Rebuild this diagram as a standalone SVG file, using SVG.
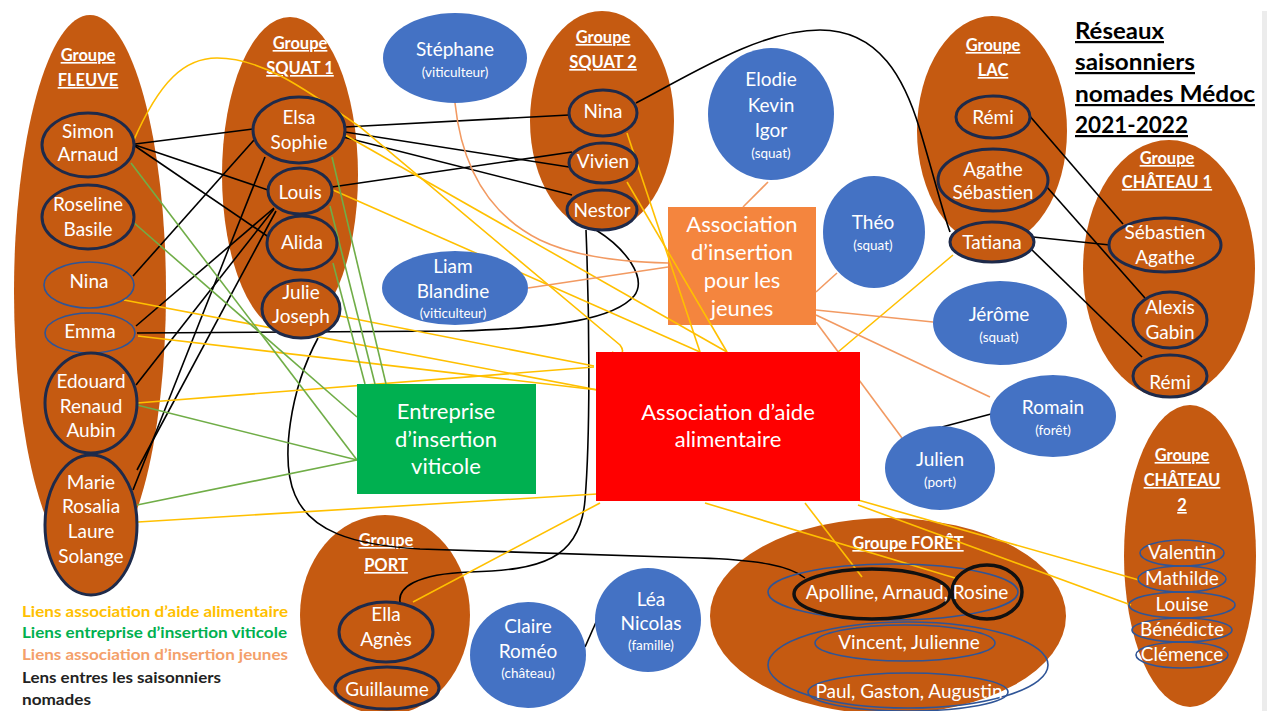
<svg xmlns="http://www.w3.org/2000/svg" width="1267" height="711" viewBox="0 0 1267 711">
<style>
.grp{fill:#C55A11}
.m{fill:#C55A11;stroke:#1E2A4A;stroke-width:3}
.mt{fill:#C55A11;stroke:#2F5597;stroke-width:1.6}
.mk{fill:none;stroke:#111;stroke-width:3.5}
.mo{fill:none;stroke:#2F5597;stroke-width:1.6}
.b{fill:#4472C4}
text{font-family:Lato,"Open Sans","Liberation Sans",sans-serif}
.t{fill:#fff;text-anchor:middle;font-size:19px}
.gl{fill:#fff;text-anchor:middle;font-size:16.5px;font-weight:bold;text-decoration:underline}
.s{font-size:13.5px}
.bx{fill:#fff;text-anchor:middle;font-size:22px}
.k{fill:none;stroke:#000;stroke-width:1.6}
.y{fill:none;stroke:#FFC000;stroke-width:1.6}
.g{fill:none;stroke:#70AD47;stroke-width:1.6}
.o{fill:none;stroke:#F29A62;stroke-width:1.6}
.lg{font-size:15px;font-weight:bold}
.ti{font-size:22px;font-weight:bold;fill:#000;text-decoration:underline}
</style>
<rect x="0" y="0" width="1267" height="711" fill="#fff"/>
<rect x="1262" y="11" width="5" height="700" fill="#ECECEC"/>

<!-- group containers -->
<g id="groupe-fleuve"><ellipse class="grp" cx="90" cy="292" rx="76" ry="277"/>
<text class="gl" x="88" y="61">Groupe</text><text class="gl" x="88" y="86">FLEUVE</text></g>
<g id="groupe-squat1"><ellipse class="grp" cx="290" cy="175" rx="68" ry="158"/>
<text class="gl" x="300" y="49">Groupe</text><text class="gl" x="300" y="74">SQUAT 1</text></g>
<g id="groupe-squat2"><ellipse class="grp" cx="602" cy="121" rx="72" ry="110"/>
<text class="gl" x="603" y="43">Groupe</text><text class="gl" x="603" y="68">SQUAT 2</text></g>
<g id="groupe-lac"><ellipse class="grp" cx="992" cy="131" rx="75" ry="115"/>
<text class="gl" x="993" y="51">Groupe</text><text class="gl" x="993" y="76">LAC</text></g>
<g id="groupe-chateau1"><ellipse class="grp" cx="1169" cy="269" rx="86" ry="129"/>
<text class="gl" x="1167" y="164">Groupe</text><text class="gl" x="1167" y="188">CHÂTEAU 1</text></g>
<g id="groupe-chateau2"><ellipse class="grp" cx="1190" cy="556" rx="66" ry="151"/>
<text class="gl" x="1182" y="461">Groupe</text><text class="gl" x="1182" y="486">CHÂTEAU</text><text class="gl" x="1182" y="511">2</text></g>
<g id="groupe-port"><ellipse class="grp" cx="385" cy="615" rx="85" ry="100"/>
<text class="gl" x="386" y="546">Groupe</text><text class="gl" x="386" y="571">PORT</text></g>
<g id="groupe-foret"><ellipse class="grp" cx="888" cy="616" rx="178" ry="98"/>
<text class="gl" x="908" y="549">Groupe FORÊT</text></g>

<g id="asso-jeunes"><rect x="668" y="207" width="148" height="118" fill="#F4853E"/>
<text class="bx" x="742" y="232" font-size="21">Association</text><text class="bx" x="742" y="260" font-size="21">d’insertion</text><text class="bx" x="742" y="288" font-size="21">pour les</text><text class="bx" x="742" y="316" font-size="21">jeunes</text></g>

<!-- connectors -->
<g id="connectors">
<!-- black: links between seasonal workers -->
<path class="k" d="M135,144 L253,129"/>
<path class="k" d="M135,145 L268,190"/>
<path class="k" d="M135,146 L273,240"/>
<path class="k" d="M133,276 L254,140"/>
<path class="k" d="M136,326 L274,208"/>
<path class="k" d="M136,385 L274,209"/>
<path class="k" d="M137,470 L276,211"/>
<path class="k" d="M133,490 L265,157"/>
<path class="k" d="M345,127 L569,115"/>
<path class="k" d="M345,132 L569,167"/>
<path class="k" d="M343,137 L572,195"/>
<path class="k" d="M332,187 L572,152"/>
<path class="k" d="M137,333 L460,331 C560,328 615,318 634,296 C648,278 625,248 596,230"/>
<path class="k" d="M586,230 C590,330 590,440 585,500 C580,560 540,570 470,572 C415,574 398,588 400,602"/>
<path class="k" d="M318,338 C290,390 280,460 295,495 C310,530 350,545 420,549 L700,558 C760,560 790,566 805,578"/>
<path class="k" d="M636,103 C690,75 760,30 820,30 C880,30 905,80 920,130 C935,180 942,210 950,232"/>
<path class="k" d="M1028,114 L1123,224"/>
<path class="k" d="M1046,186 L1145,298"/>
<path class="k" d="M1033,237 L1110,245"/>
<path class="k" d="M1031,249 L1142,357"/>
<path class="k" d="M942,427 L991,414"/>
<path class="k" d="M585,647 L597,620"/>
<!-- yellow: food aid association -->
<path class="y" d="M133,142 C160,80 185,58 217,58 C260,58 300,85 360,127 L620,345 C626,353 620,357 612,352"/>
<path class="y" d="M124,300 L598,390"/>
<path class="y" d="M138,336 L598,390"/>
<path class="y" d="M137,403 L594,367"/>
<path class="y" d="M138,522 L597,494"/>
<path class="y" d="M340,316 L594,366"/>
<path class="y" d="M333,190 L700,352"/>
<path class="y" d="M345,135 L727,352"/>
<path class="y" d="M627,133 L700,352"/>
<path class="y" d="M627,182 L727,352"/>
<path class="y" d="M953,255 L838,352"/>
<path class="y" d="M600,503 L413,602"/>
<path class="y" d="M805,503 L862,577"/>
<path class="y" d="M705,503 L955,578"/>
<path class="y" d="M858,500 L1139,580"/>
<path class="y" d="M858,505 L1131,605"/>
<!-- green: viticultural insertion company -->
<path class="g" d="M131,163 L357,460"/>
<path class="g" d="M133,222 L357,417"/>
<path class="g" d="M137,405 L357,460"/>
<path class="g" d="M137,505 L357,460"/>
<path class="g" d="M332,157 L386,384"/>
<path class="g" d="M330,206 L375,384"/>
<path class="g" d="M333,263 L365,384"/>
<!-- orange: youth insertion association -->
<path class="o" d="M455,103 C462,170 490,215 540,240 C575,257 620,262 668,263"/>
<path class="o" d="M528,288 L668,267"/>
<path class="o" d="M768,182 L743,207"/>
<path class="o" d="M837,273 L816,292"/>
<path class="o" d="M933,322 L816,310"/>
<path class="o" d="M990,397 L816,315"/>
<path class="o" d="M902,438 L816,322"/>
</g>

<!-- institutions -->
<g id="asso-aide-alimentaire"><rect x="596" y="352" width="264" height="149" fill="#FF0000"/>
<text class="bx" x="728" y="420">Association d’aide</text><text class="bx" x="728" y="447">alimentaire</text></g>
<g id="entreprise-insertion"><rect x="357" y="384" width="179" height="110" fill="#00B050"/>
<text class="bx" x="446" y="419">Entreprise</text><text class="bx" x="446" y="447">d’insertion</text><text class="bx" x="446" y="474">viticole</text></g>

<!-- FLEUVE members -->
<g id="simon-arnaud"><ellipse class="m" cx="88" cy="145" rx="46" ry="32"/><text class="t" x="88" y="138">Simon</text><text class="t" x="88" y="161">Arnaud</text></g>
<g id="roseline-basile"><ellipse class="m" cx="88" cy="217" rx="46" ry="32"/><text class="t" x="88" y="211">Roseline</text><text class="t" x="88" y="236">Basile</text></g>
<g id="nina-fleuve"><ellipse class="mt" cx="89" cy="285" rx="45" ry="23"/><text class="t" x="89" y="288">Nina</text></g>
<g id="emma"><ellipse class="mt" cx="90" cy="333" rx="45" ry="20"/><text class="t" x="90" y="338">Emma</text></g>
<g id="edouard-renaud-aubin"><ellipse class="m" cx="91" cy="403" rx="46" ry="50"/><text class="t" x="91" y="388">Edouard</text><text class="t" x="91" y="413">Renaud</text><text class="t" x="91" y="437">Aubin</text></g>
<g id="marie-rosalia-laure-solange"><ellipse class="m" cx="91" cy="525" rx="46" ry="70"/><text class="t" x="91" y="489">Marie</text><text class="t" x="91" y="513">Rosalia</text><text class="t" x="91" y="538">Laure</text><text class="t" x="91" y="563">Solange</text></g>

<!-- SQUAT 1 members -->
<g id="elsa-sophie"><ellipse class="m" cx="299" cy="130" rx="46" ry="33"/><text class="t" x="299" y="124">Elsa</text><text class="t" x="299" y="149">Sophie</text></g>
<g id="louis"><ellipse class="m" cx="300" cy="191" rx="32" ry="23"/><text class="t" x="300" y="199">Louis</text></g>
<g id="alida"><ellipse class="m" cx="302" cy="243" rx="35" ry="27"/><text class="t" x="302" y="249">Alida</text></g>
<g id="julie-joseph"><ellipse class="m" cx="301" cy="309" rx="39" ry="29"/><text class="t" x="301" y="299">Julie</text><text class="t" x="301" y="323">Joseph</text></g>

<!-- SQUAT 2 members -->
<g id="nina-squat2"><ellipse class="m" cx="603" cy="113" rx="34" ry="23"/><text class="t" x="603" y="118">Nina</text></g>
<g id="vivien"><ellipse class="m" cx="603" cy="163" rx="34" ry="20"/><text class="t" x="603" y="168">Vivien</text></g>
<g id="nestor"><ellipse class="m" cx="602" cy="210" rx="35" ry="20"/><text class="t" x="602" y="217">Nestor</text></g>

<!-- LAC members -->
<g id="remi-lac"><ellipse class="m" cx="993" cy="117" rx="37" ry="21"/><text class="t" x="993" y="124">Rémi</text></g>
<g id="agathe-sebastien-lac"><ellipse class="m" cx="993" cy="180" rx="55" ry="31"/><text class="t" x="993" y="176">Agathe</text><text class="t" x="993" y="199">Sébastien</text></g>
<g id="tatiana"><ellipse class="m" cx="992" cy="242" rx="42" ry="20"/><text class="t" x="992" y="249">Tatiana</text></g>

<!-- CHATEAU 1 members -->
<g id="sebastien-agathe-ch1"><ellipse class="m" cx="1165" cy="245" rx="56" ry="27"/><text class="t" x="1165" y="239">Sébastien</text><text class="t" x="1165" y="264">Agathe</text></g>
<g id="alexis-gabin"><ellipse class="m" cx="1170" cy="320" rx="37" ry="28"/><text class="t" x="1170" y="314">Alexis</text><text class="t" x="1170" y="339">Gabin</text></g>
<g id="remi-ch1"><ellipse class="m" cx="1170" cy="376" rx="37" ry="21"/><text class="t" x="1170" y="389">Rémi</text></g>

<!-- CHATEAU 2 members -->
<g id="valentin"><ellipse class="mo" cx="1182" cy="553" rx="42" ry="13"/><text class="t" x="1182" y="559" font-size="17">Valentin</text></g>
<g id="mathilde"><ellipse class="mo" cx="1182" cy="579" rx="44" ry="13"/><text class="t" x="1182" y="585" font-size="17">Mathilde</text></g>
<g id="louise"><ellipse class="mo" cx="1182" cy="605" rx="53" ry="13"/><text class="t" x="1182" y="611" font-size="17">Louise</text></g>
<g id="benedicte"><ellipse class="mo" cx="1182" cy="630" rx="50" ry="12"/><text class="t" x="1182" y="636" font-size="17">Bénédicte</text></g>
<g id="clemence"><ellipse class="mo" cx="1182" cy="655" rx="46" ry="13"/><text class="t" x="1182" y="661" font-size="17">Clémence</text></g>

<!-- FORET members -->
<g id="apolline-arnaud-rosine"><ellipse class="mo" cx="893" cy="592" rx="125" ry="28"/><ellipse class="mk" cx="872" cy="594" rx="78" ry="25"/><ellipse class="mk" cx="987" cy="592" rx="35" ry="27"/><text class="t" x="907" y="599">Apolline, Arnaud, Rosine</text></g>
<g id="vincent-paul"><ellipse class="mo" cx="908" cy="665" rx="140" ry="43"/>
<ellipse class="mo" cx="905" cy="643" rx="90" ry="18"/><text class="t" x="909" y="649">Vincent, Julienne</text>
<ellipse class="mo" cx="908" cy="692" rx="100" ry="19"/><text class="t" x="909" y="698">Paul, Gaston, Augustin</text></g>

<!-- PORT members -->
<g id="ella-agnes"><ellipse class="m" cx="386" cy="632" rx="47" ry="30"/><text class="t" x="386" y="621">Ella</text><text class="t" x="386" y="646">Agnès</text></g>
<g id="guillaume"><ellipse class="m" cx="387" cy="688" rx="52" ry="21"/><text class="t" x="387" y="696">Guillaume</text></g>

<!-- blue persons -->
<g id="stephane"><ellipse class="b" cx="455" cy="58" rx="72" ry="45"/><text class="t" x="455" y="56">Stéphane</text><text class="t s" x="455" y="77">(viticulteur)</text></g>
<g id="elodie-kevin-igor"><ellipse class="b" cx="771" cy="114" rx="63" ry="66"/><text class="t" x="771" y="86">Elodie</text><text class="t" x="771" y="112">Kevin</text><text class="t" x="771" y="137">Igor</text><text class="t s" x="771" y="158">(squat)</text></g>
<g id="theo"><ellipse class="b" cx="874" cy="232" rx="51" ry="56"/><text class="t" x="873" y="229">Théo</text><text class="t s" x="873" y="250">(squat)</text></g>
<g id="liam-blandine"><ellipse class="b" cx="455" cy="288" rx="73" ry="37"/><text class="t" x="453" y="273">Liam</text><text class="t" x="453" y="298">Blandine</text><text class="t s" x="453" y="318">(viticulteur)</text></g>
<g id="jerome"><ellipse class="b" cx="1000" cy="323" rx="67" ry="42"/><text class="t" x="999" y="321">Jérôme</text><text class="t s" x="999" y="342">(squat)</text></g>
<g id="romain"><ellipse class="b" cx="1053" cy="416" rx="63" ry="41"/><text class="t" x="1053" y="414">Romain</text><text class="t s" x="1053" y="435">(forêt)</text></g>
<g id="julien"><ellipse class="b" cx="940" cy="468" rx="55" ry="42"/><text class="t" x="940" y="466">Julien</text><text class="t s" x="940" y="487">(port)</text></g>
<g id="claire-romeo"><ellipse class="b" cx="528" cy="655" rx="58" ry="53"/><text class="t" x="528" y="633">Claire</text><text class="t" x="528" y="658">Roméo</text><text class="t s" x="528" y="678">(château)</text></g>
<g id="lea-nicolas"><ellipse class="b" cx="648" cy="620" rx="53" ry="52"/><text class="t" x="651" y="606">Léa</text><text class="t" x="651" y="630">Nicolas</text><text class="t s" x="651" y="650">(famille)</text></g>

<!-- title -->
<g id="titre">
<text class="ti" x="1075" y="39" textLength="89" lengthAdjust="spacingAndGlyphs">Réseaux</text>
<text class="ti" x="1075" y="70" textLength="120" lengthAdjust="spacingAndGlyphs">saisonniers</text>
<text class="ti" x="1075" y="102" textLength="180" lengthAdjust="spacingAndGlyphs">nomades Médoc</text>
<text class="ti" x="1075" y="133" textLength="113" lengthAdjust="spacingAndGlyphs">2021-2022</text>
</g>

<!-- legend -->
<g id="legende">
<text class="lg" x="22" y="617" fill="#FFC000" textLength="266" lengthAdjust="spacingAndGlyphs">Liens association d’aide alimentaire</text>
<text class="lg" x="22" y="638" fill="#00B050" textLength="265" lengthAdjust="spacingAndGlyphs">Liens entreprise d’insertion viticole</text>
<text class="lg" x="22" y="660" fill="#F4A06A" textLength="266" lengthAdjust="spacingAndGlyphs">Liens association d’insertion jeunes</text>
<text class="lg" x="22" y="683" fill="#222" textLength="199" lengthAdjust="spacingAndGlyphs">Lens entres les saisonniers</text>
<text class="lg" x="22" y="705" fill="#222" textLength="69" lengthAdjust="spacingAndGlyphs">nomades</text>
</g>
</svg>
